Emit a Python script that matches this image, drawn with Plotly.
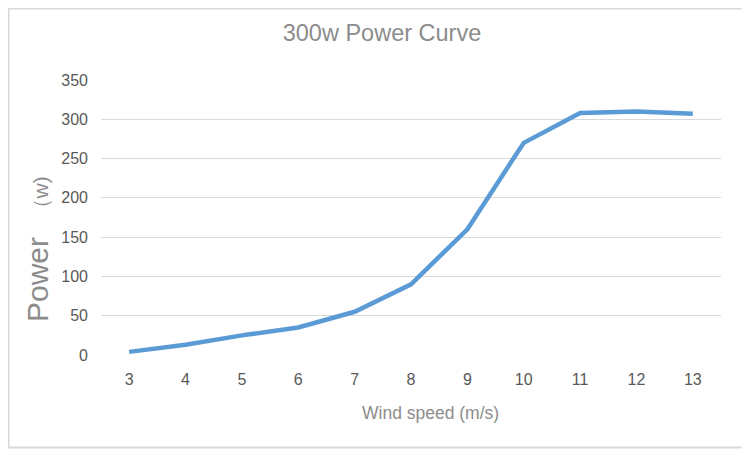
import plotly.graph_objects as go

wind_speed = [3, 4, 5, 6, 7, 8, 9, 10, 11, 12, 13]
power_w = [4, 13, 25, 35, 55, 90, 160, 270, 308, 310, 307]
y_ticks = [0, 50, 100, 150, 200, 250, 300, 350]

# page body has an 8px margin, so the figure is drawn 8px in from the window edge
OFF = 8
W, H = 750 - OFF, 451 - OFF
ml, mr, mt, mb = 101 - OFF, 29, 80 - OFF, 96
pw, ph = W - ml - mr, H - mt - mb

def px2paper_x(sx):
    return (sx - OFF - ml) / pw

def px2paper_y(sy):
    return (H - mb - (sy - OFF)) / ph

fig = go.Figure()
fig.add_trace(go.Scatter(
    x=wind_speed, y=power_w, mode="lines",
    line=dict(color="#5b9bd5", width=4.5),
    hoverinfo="x+y",
))

fig.update_layout(
    width=W, height=H,
    margin=dict(l=ml, r=mr, t=mt, b=mb),
    paper_bgcolor="white", plot_bgcolor="white",
    showlegend=False,
    font=dict(family="Liberation Sans, Arial, sans-serif", color="#595959"),
    title=dict(text="300w Power Curve", x=px2paper_x(382), xref="paper",
               xanchor="center", y=1 - (33 - OFF) / H, yanchor="middle",
               font=dict(size=23.5, color="#8c8c8c")),
    xaxis=dict(
        range=[2.5, 13.5], tickmode="array", tickvals=wind_speed,
        showgrid=False, zeroline=False, showline=False,
        tickfont=dict(size=16, color="#595959"),
        ticks="", ticklabelstandoff=13,
        fixedrange=True,
    ),
    yaxis=dict(
        range=[0, 350], tickmode="array", tickvals=y_ticks,
        showgrid=True, gridcolor="#d9d9d9", gridwidth=1,
        zeroline=False, showline=False,
        tickfont=dict(size=16, color="#595959"),
        ticks="", ticklabelstandoff=12,
        fixedrange=True,
    ),
    annotations=[
        dict(text="Wind speed (m/s)", xref="paper", yref="paper",
             x=px2paper_x(430), y=px2paper_y(413), xanchor="center", yanchor="middle",
             showarrow=False, font=dict(size=17.5, color="#8c8c8c")),
        dict(text="Power<span style='font-size:21px'>&nbsp;&nbsp;&nbsp;（w)</span>",
             xref="paper", yref="paper",
             x=px2paper_x(37), y=px2paper_y(249), xanchor="center", yanchor="middle",
             textangle=-90, showarrow=False, font=dict(size=30, color="#8c8c8c")),
    ],
    shapes=[
        dict(type="rect", xref="paper", yref="paper",
             x0=px2paper_x(OFF + 0.5), x1=px2paper_x(746.5),
             y0=px2paper_y(447.5), y1=px2paper_y(OFF + 0.5),
             line=dict(color="#d9d9d9", width=2), layer="below"),
    ],
)

fig.write_html("out.html")
